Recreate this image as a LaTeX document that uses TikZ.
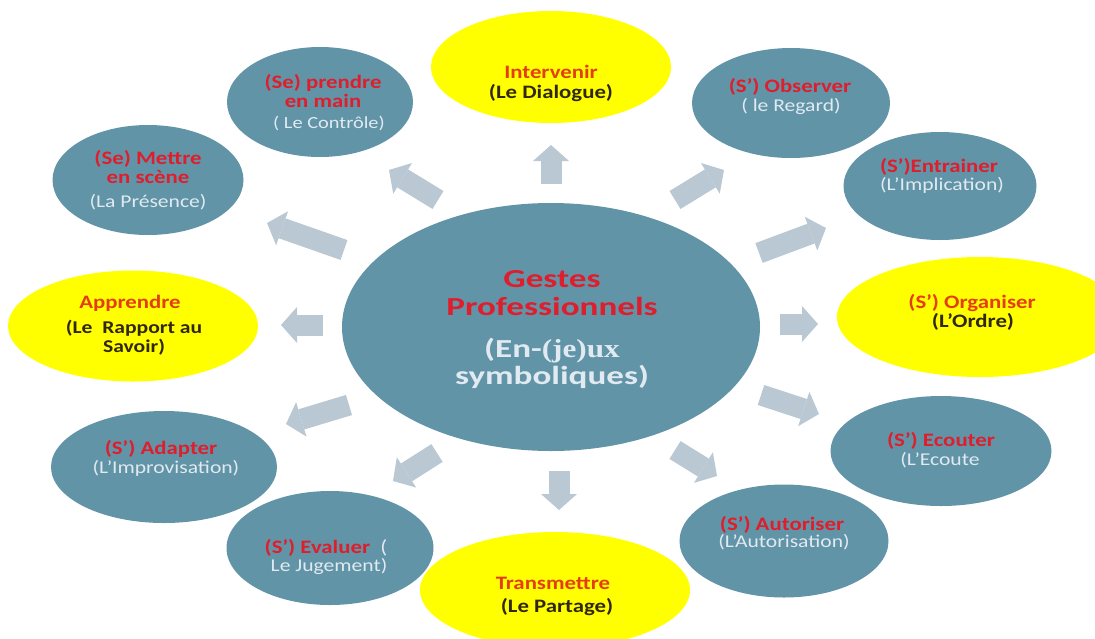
\documentclass[tikz,border=0pt]{standalone}
\usepackage{fontspec}
\setmainfont{Carlito}[FakeStretch=1.2]
\newfontfamily\grandfont{Carlito}[FakeStretch=1.35]
\newfontfamily\jeufont{Liberation Serif}[FakeStretch=1.2]
\usetikzlibrary{shapes.geometric,arrows.meta}

\definecolor{gblue}{RGB}{98,148,168}
\definecolor{gyellow}{RGB}{255,255,0}
\definecolor{gred}{RGB}{222,30,44}
\definecolor{gorange}{RGB}{228,62,16}
\definecolor{gpale}{RGB}{224,234,240}
\definecolor{gdark}{RGB}{48,40,12}
\definecolor{garrow}{RGB}{185,200,210}

\begin{document}
\begin{tikzpicture}[x=1pt,y=-1pt,
  geste/.style 2 args={ellipse,fill=gblue,inner sep=0pt,minimum width=#1pt,minimum height=#2pt},
  jaune/.style 2 args={ellipse,fill=gyellow,inner sep=0pt,minimum width=#1pt,minimum height=#2pt},
  titre/.style={font=\bfseries\fontsize{19}{19}\selectfont,text=gred,align=center,inner sep=0pt},
  sous/.style={font=\fontsize{18}{19}\selectfont,text=gpale,align=center,inner sep=0pt},
  jtitre/.style={font=\bfseries\fontsize{19}{19}\selectfont,text=gorange,align=center,inner sep=0pt},
  jsous/.style={font=\bfseries\fontsize{19}{19}\selectfont,text=gdark,align=center,inner sep=0pt},
  fleche/.style={draw=garrow,line width=21pt,-{Triangle[length=16pt,width=36pt,line width=0pt]}}]
\useasboundingbox (0,0) rectangle (1095,638);
\clip (0,0) rectangle (1095,638);

% centre
\node[geste={418}{248}] (centre) at (551,327) {};
\node[font=\grandfont\bfseries\fontsize{26}{28}\selectfont,text=gred,align=center,inner sep=0pt]
  (centre-t) at (552,293) {Gestes\\Professionnels};
\node[font=\grandfont\bfseries\fontsize{26}{27}\selectfont,text=gpale,align=center,inner sep=0pt]
  (centre-s) at (552,363) {(En-{\jeufont(je)ux}\\symboliques)};

% outer gestures
\node[jaune={240}{112}] (interv) at (551,67) {};
\node[jtitre] (interv-t) at (551,72) {Intervenir};
\node[jsous] (interv-s) at (551,93) {(Le Dialogue)};

\node[geste={186}{110}] (prendre) at (320,102) {};
\node[titre] (prendre-t) at (323,91) {(Se) prendre\\en main};
\node[sous,font=\fontsize{17}{19}\selectfont] (prendre-s) at (329,123) {( Le Contrôle)};

\node[geste={191}{110}] (scene) at (148,180) {};
\node[titre] (scene-t) at (148,167.5) {(Se) Mettre\\en scène};
\node[sous] (scene-s) at (148,202) {(La Présence)};

\node[jaune={250}{111}] (appr) at (133,326) {};
\node[jtitre] (appr-t) at (130,303) {Apprendre};
\node[jsous,font=\bfseries\fontsize{18}{19}\selectfont] (appr-s) at (134,337.5) {(Le~~Rapport au\\Savoir)};

\node[geste={226}{112}] (adapt) at (164,467) {};
\node[titre] (adapt-t) at (161,449) {(S') Adapter};
\node[sous] (adapt-s) at (166,468) {(L'Improvisation)};

\node[geste={207}{114}] (evalu) at (330,548) {};
\node[titre] (evalu-t) at (326,548) {(S') Evaluer~~\textcolor{gpale}{\mdseries(}};
\node[sous] (evalu-s) at (329,566) {Le Jugement)};

\node[jaune={270}{116}] (transm) at (555,590) {};
\node[jtitre] (transm-t) at (553,583) {Transmettre};
\node[jsous] (transm-s) at (557,607) {(Le Partage)};

\node[geste={209}{113}] (autor) at (784,541) {};
\node[titre] (autor-t) at (782,525) {(S') Autoriser};
\node[sous] (autor-s) at (784,542) {(L'Autorisation)};

\node[geste={221}{110}] (ecout) at (941,451) {};
\node[titre] (ecout-t) at (941,441) {(S') Ecouter};
\node[sous] (ecout-s) at (940,460) {(L'Ecoute};

\node[jaune={286}{120}] (organ) at (980,317) {};
\node[jtitre] (organ-t) at (972,303) {(S') Organiser};
\node[jsous] (organ-s) at (973,322) {(L'Ordre)};

\node[geste={193}{108}] (entr) at (940,186) {};
\node[titre] (entr-t) at (939,167) {(S')Entrainer};
\node[sous] (entr-s) at (942,185) {(L'Implication)};

\node[geste={198}{110}] (obs) at (791,103) {};
\node[titre] (obs-t) at (790,87) {(S') Observer};
\node[sous] (obs-s) at (791,106) {( le Regard)};

% arrows out of the centre
\foreach \n/\tx/\ty/\hx/\hy in {f1/551/184/551/145, f2/438/200/389/170,
    f3/344/250/267/223, f4/323/325/281/325, f5/349/405/286/424,
    f6/437/453/393/481, f7/559/471/559/510, f8/675/450/717/476,
    f9/761/395/819/414, f10/780/324/818/324, f11/759/253/826/228,
    f12/675/200/724/170}{
  \coordinate (\n-a) at (\tx,\ty);
  \coordinate (\n-b) at (\hx,\hy);
  \draw[fleche] (\n-a) -- (\n-b);
}
\end{tikzpicture}
\end{document}
